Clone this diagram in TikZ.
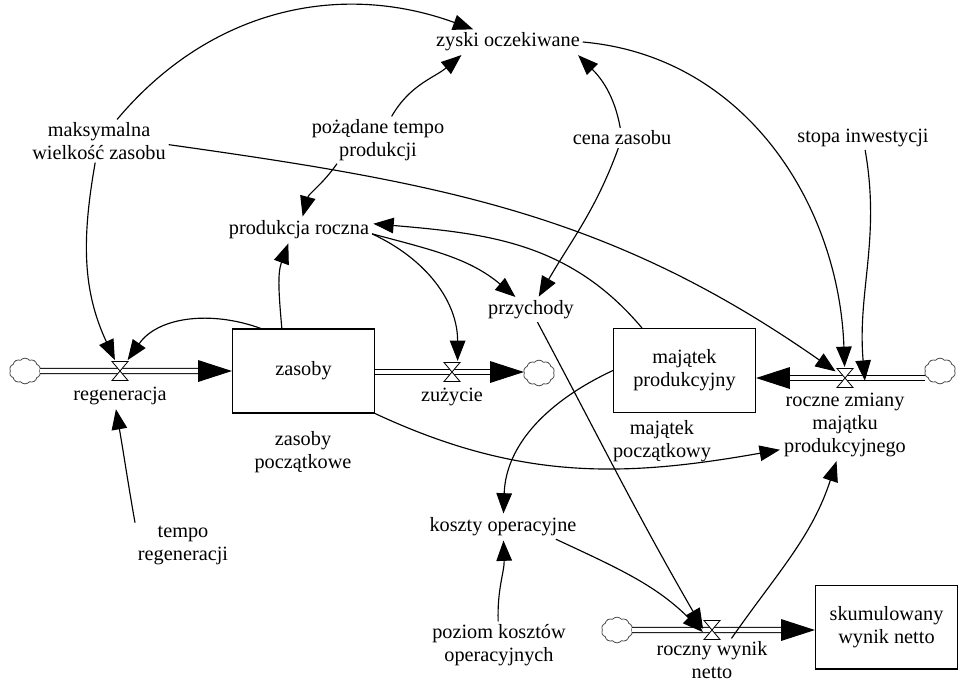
\documentclass[tikz,border=0pt]{standalone}
\usepackage{fontspec}
\setmainfont{Liberation Serif}
\usetikzlibrary{arrows.meta,shapes.symbols}

\tikzset{hourglass/.pic={\draw[fill=white,line width=0.6pt] (-8,-9.5) -- (8,-9.5) -- (-8,9.5) -- (8,9.5) -- cycle;}}

\begin{document}
\begin{tikzpicture}[x=0.026cm,y=0.026cm,>={Triangle[length=15pt,width=11.5pt]},
  font=\rmfamily\fontsize{15}{17}\selectfont,
  var/.style={align=center,inner sep=2pt},
  stock/.style={draw,line width=0.9pt,minimum width=105pt,minimum height=62pt,align=center},
  valve/.style={minimum width=11.8pt,minimum height=14pt,inner sep=0pt},
  src/.style={cloud,cloud puffs=10,cloud puff arc=100,draw=black!70,line width=0.6pt,minimum width=23pt,minimum height=19pt,inner sep=0pt},
  pipe/.style={double distance=3.2pt,line width=0.75pt,-{Triangle[length=25pt,width=16pt]}},
  link/.style={->,line width=0.85pt,shorten >=1pt}]
\useasboundingbox (0,0) rectangle (966,-681);

% stocks
\node[stock](zas) at (303.5,-371){zasoby};
\node[stock](maj) at (684.5,-370.5){majątek\\produkcyjny};
\node[stock](skum) at (886.5,-627){skumulowany\\wynik netto};

% clouds and valves
\node[src](c1) at (25,-371){};
\node[src](c2) at (539,-373){};
\node[src](c3) at (940,-371){};
\node[src](c4) at (617,-630){};
\node[valve](vreg) at (120,-371){};
\node[valve](vzuz) at (452,-372){};
\node[valve](vmaj) at (845,-378){};
\node[valve](vwyn) at (712,-630){};

% flows
\draw[pipe] (c1) -- (zas);
\draw[pipe] (zas.east |- vzuz) -- (c2.west |- vzuz);
\draw[pipe] (c3.west |- vmaj) -- (maj.east |- vmaj);
\draw[pipe] (c4) -- (skum.west |- vwyn);
\foreach \v in {vreg,vzuz,vmaj,vwyn} \pic at (\v) {hourglass};

% variables
\node[var](zyski) at (508,-42){zyski oczekiwane};
\node[var](maks) at (99,-141){maksymalna\\wielkość zasobu};
\node[var](poz) at (378,-140){pożądane tempo\\produkcji};
\node[var](cena) at (622,-138){cena zasobu};
\node[var](stopa) at (863,-138){stopa inwestycji};
\node[var](prod) at (299,-230){produkcja roczna};
\node[var](przych) at (531,-310){przychody};
\node[var](koszty) at (503,-527){koszty operacyjne};
\node[var](tempo) at (183,-545){tempo\\regeneracji};
\node[var](poziom) at (499,-645){poziom kosztów\\operacyjnych};
\node[var](zasp) at (303,-452){zasoby\\początkowe};
\node[var](majp) at (662,-441){majątek\\początkowy};
\node[var](lreg) at (120,-396){regeneracja};
\node[var](lzuz) at (452,-397){zużycie};
\node[var](lmaj) at (845,-425){roczne zmiany\\majątku\\produkcyjnego};
\node[var](lwyn) at (712,-660){roczny wynik\\netto};

% links
\draw[link] (maks) to[out=50,in=160] (zyski);
\draw[link] (maks) to[out=-100,in=115] (vreg);
\draw[link] (maks.-3) to[out=-8,in=145] (vmaj);
\draw[link] (poz) to[out=60,in=-140] (zyski.195);
\draw[link] (poz.210) to[out=-125,in=75] (prod);
\draw[link] (cena) to[out=100,in=-45] (zyski.-10);
\draw[link] (cena) to[out=-110,in=60] (przych);
\draw[link] (zyski.east) to[out=-5,in=92] (vmaj);
\draw[link] (stopa) to[out=-80,in=95] ([shift={(20,-4)}]vmaj.center);
\draw[link] (zas.117) to[out=95,in=-110] (prod.-130);
\draw[link] (zas.135) to[out=160,in=55] (vreg);
\draw[link] (prod.-3) to[out=-15,in=140] (przych);
\draw[link] (prod.-3) to[out=-25,in=90] (vzuz.60);
\draw[link] (maj.135) to[out=130,in=-5] (prod.5);
\draw[link] (przych) to[out=-62,in=120] (vwyn.west);
\draw[link] (maj.west) to[out=-155,in=88] (koszty);
\draw[link] (zas.south east) to[out=-25,in=190] (lmaj.201);
\draw[link] (lwyn.48) to[out=55,in=-108] (lmaj.-103);
\draw[link] (koszty.-13) to[out=-25,in=135] (vwyn.200);
\draw[link] (poziom) to[out=92,in=-88] (koszty);
\draw[link] (tempo.north west) to[out=100,in=-80] (lreg.-110);
\end{tikzpicture}
\end{document}
